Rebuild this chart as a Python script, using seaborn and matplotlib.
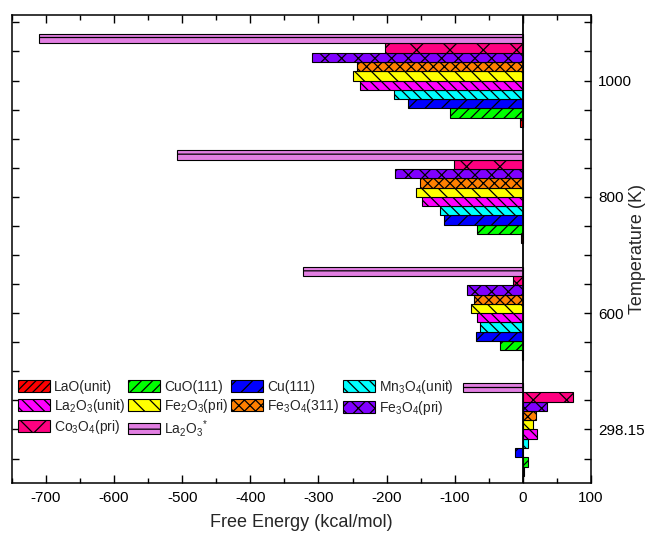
import numpy as np
import pandas as pd
import seaborn as sns
import matplotlib
matplotlib.use("Agg")
import matplotlib.pyplot as plt
from matplotlib.patches import Patch
from matplotlib.ticker import MultipleLocator

# Temperatures (K), bottom group first
temperatures = ["298.15", "600", "800", "1000"]

materials = ["LaO(unit)", "CuO(111)", "Cu(111)", "Mn3O4(unit)", "La2O3(unit)",
             "Fe2O3(pri)", "Fe3O4(311)", "Fe3O4(pri)", "Co3O4(pri)", "La2O3*"]

legend_labels = ["LaO(unit)", "CuO(111)", "Cu(111)", "Mn$_3$O$_4$(unit)",
                 "La$_2$O$_3$(unit)", "Fe$_2$O$_3$(pri)", "Fe$_3$O$_4$(311)",
                 "Fe$_3$O$_4$(pri)", "Co$_3$O$_4$(pri)", "La$_2$O$_3$$^{*}$"]

# Free energy (kcal/mol) per material, one value per temperature
lao_unit   = [1, -2, -3, -5]
cuo_111    = [7, -33, -68, -107]
cu_111     = [-12, -69, -116, -168]
mn3o4_unit = [7, -63, -121, -189]
la2o3_unit = [20, -68, -148, -239]
fe2o3_pri  = [15, -76, -157, -249]
fe3o4_311  = [19, -72, -151, -243]
fe3o4_pri  = [35, -82, -188, -310]
co3o4_pri  = [74, -14, -101, -202]
la2o3_star = [-88, -322, -508, -710]

series = [lao_unit, cuo_111, cu_111, mn3o4_unit, la2o3_unit,
          fe2o3_pri, fe3o4_311, fe3o4_pri, co3o4_pri, la2o3_star]

colors = ["#FF0000", "#00FF00", "#0000FF", "#00FFFF", "#FF00FF",
          "#FFFF00", "#FF8000", "#8000FF", "#FF0080", "#E27FE2"]
hatches = ["////", "///", "//", "\\\\\\", "\\\\\\",
           "\\\\", "xxx", "xx", "x", "--"]

rows = []
for name, vals in zip(materials, series):
    for t, v in zip(temperatures, vals):
        rows.append({"Temperature": t, "Material": name, "Energy": v})
df = pd.DataFrame(rows)

sns.set_theme(style="ticks")
plt.rcParams["font.family"] = ["Liberation Sans", "DejaVu Sans"]
plt.rcParams["mathtext.default"] = "regular"
plt.rcParams["axes.unicode_minus"] = False
plt.rcParams["hatch.linewidth"] = 0.9
plt.rcParams["axes.linewidth"] = 1.1

fig = plt.figure(figsize=(6.51, 5.34), dpi=100)
ax = fig.add_axes([0.018, 0.0955, 0.890, 0.877])

sns.barplot(data=df, x="Energy", y="Temperature", hue="Material",
            order=temperatures, hue_order=materials, orient="h",
            palette=dict(zip(materials, colors)), saturation=1,
            width=0.8, edgecolor="black", linewidth=0.8,
            legend=False, ax=ax)

for cont, h in zip(ax.containers, hatches):
    for bar in cont:
        bar.set_hatch(h)

ax.axvline(0, color="black", lw=1.3, zorder=5)

ax.set_xlim(-750, 100)
ax.set_ylim(-0.46, 3.566)

ax.xaxis.set_major_locator(MultipleLocator(100))
ax.xaxis.set_minor_locator(MultipleLocator(50))
ax.set_yticks(range(len(temperatures)))
ax.set_yticklabels(temperatures)
ax.yaxis.set_minor_locator(MultipleLocator(0.25))

ax.tick_params(axis="both", which="both", direction="in", colors="black",
               labelsize=11, top=True, bottom=True, left=True, right=True,
               labelleft=False, labelright=True, width=1.0)
ax.tick_params(axis="x", which="major", length=6, pad=6)
ax.tick_params(axis="x", which="minor", length=3.5)
ax.tick_params(axis="y", which="both", length=5, pad=5)

ax.yaxis.set_label_position("right")
ax.set_ylabel("Temperature (K)", fontsize=13)
ax.yaxis.set_label_coords(1.066, 0.5)
ax.set_xlabel("Free Energy (kcal/mol)", fontsize=13, labelpad=6)
for s in ax.spines.values():
    s.set_color("black")
    s.set_visible(True)

handles = [Patch(facecolor=c, edgecolor="black", hatch=h, linewidth=0.8)
           for c, h in zip(colors, hatches)]
# row-major arrangement for a 4-column legend
order = [0, 4, 8, 1, 5, 9, 2, 6, 3, 7]
fig.legend([handles[i] for i in order], [legend_labels[i] for i in order],
           ncol=4, loc="upper left", bbox_to_anchor=(18 / 651, 1 - 378 / 534),
           bbox_transform=fig.transFigure, frameon=False, fontsize=10,
           borderpad=0, borderaxespad=0, handlelength=2.3, handleheight=0.9,
           handletextpad=0.3, columnspacing=0.2, labelspacing=0.2)

fig.savefig("out.png", dpi=100)
